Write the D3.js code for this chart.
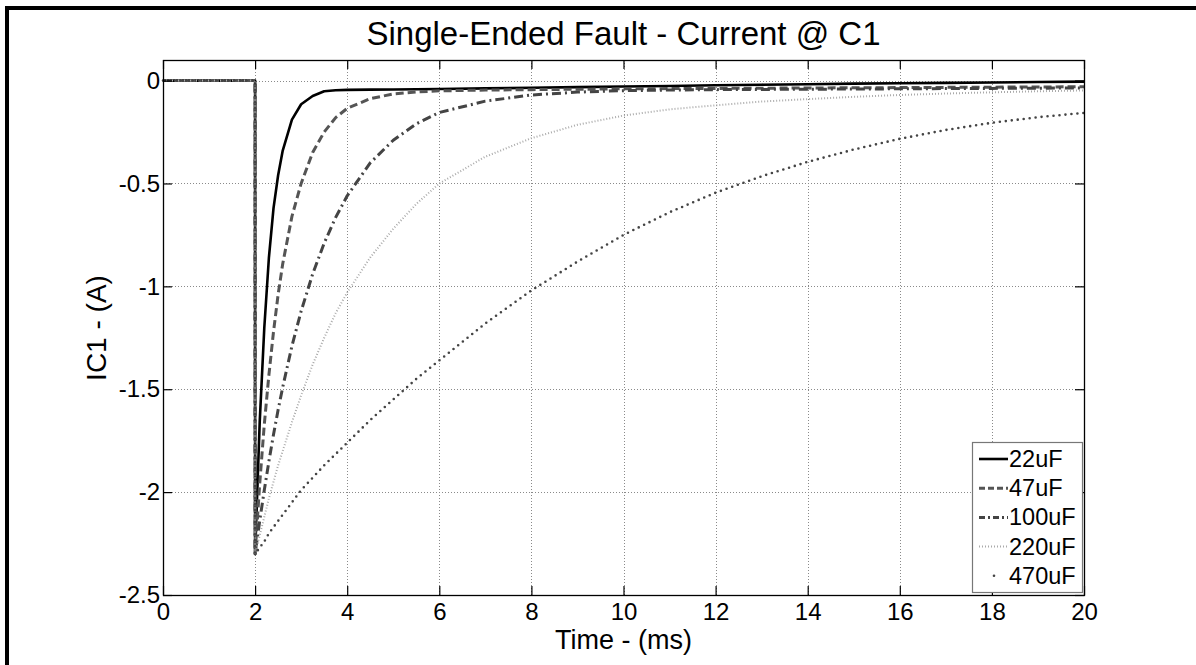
<!DOCTYPE html>
<html>
<head>
<meta charset="utf-8">
<script src="https://cdn.jsdelivr.net/npm/d3@7"></script>
<style>
  html, body { margin: 0; padding: 0; background: #fff; }
  svg { display: block; font-family: "Liberation Sans", Arial, sans-serif; }
</style>
</head>
<body>
<svg id="chart" width="1196" height="665"></svg>
<script>
// --- datos ---
const titleText = "Single-Ended Fault - Current @ C1";
const xLabel = "Time - (ms)";
const yLabel = "IC1 - (A)";

const xTicks = [0, 2, 4, 6, 8, 10, 12, 14, 16, 18, 20];
const yTicks = [0, -0.5, -1, -1.5, -2, -2.5];
const yTickLabels = ["0", "-0.5", "-1", "-1.5", "-2", "-2.5"];

const seriesNames = ["22uF", "47uF", "100uF", "220uF", "470uF"];

// tiempo (ms)
const time = [0, 2, 2, 2.1, 2.2, 2.3, 2.4, 2.5, 2.6, 2.8, 3, 3.25, 3.5, 3.75, 4, 4.5, 5, 5.5, 6,
  7, 8, 9, 10, 11, 12, 13, 14, 15, 16, 17, 18, 19, 20];

// corriente IC1 (A)
const i22 = [0, 0, -2.3, -1.66, -1.2, -0.86, -0.62, -0.46, -0.34, -0.19, -0.115, -0.075, -0.052, -0.047, -0.045,
  -0.044, -0.043, -0.042, -0.041, -0.038, -0.035, -0.032, -0.029, -0.026, -0.023, -0.02, -0.018, -0.015,
  -0.013, -0.011, -0.009, -0.007, -0.005];
const i47 = [0, 0, -2.3, -1.96, -1.67, -1.43, -1.22, -1.04, -0.89, -0.66, -0.5, -0.35, -0.25, -0.18, -0.135,
  -0.088, -0.065, -0.055, -0.05, -0.046, -0.044, -0.042, -0.04, -0.039, -0.038, -0.037, -0.036, -0.035,
  -0.034, -0.033, -0.032, -0.031, -0.03];
const i100 = [0, 0, -2.3, -2.14, -1.99, -1.85, -1.72, -1.6, -1.49, -1.29, -1.12, -0.94, -0.79, -0.665, -0.56,
  -0.4, -0.29, -0.21, -0.155, -0.1, -0.07, -0.056, -0.049, -0.046, -0.044, -0.043, -0.042, -0.041,
  -0.04, -0.039, -0.038, -0.037, -0.036];
const i220 = [0, 0, -2.3, -2.21, -2.12, -2.03, -1.95, -1.87, -1.8, -1.66, -1.53, -1.38, -1.25, -1.13, -1.03,
  -0.86, -0.72, -0.6, -0.5, -0.37, -0.28, -0.215, -0.17, -0.14, -0.12, -0.102, -0.09, -0.079,
  -0.07, -0.063, -0.057, -0.052, -0.048];
const i470 = [0, 0, -2.3, -2.27, -2.24, -2.2, -2.17, -2.14, -2.11, -2.05, -1.99, -1.93, -1.87, -1.815, -1.76,
  -1.65, -1.55, -1.45, -1.36, -1.18, -1.02, -0.88, -0.75, -0.64, -0.545, -0.465, -0.395, -0.335,
  -0.283, -0.24, -0.205, -0.178, -0.157];

const seriesValues = [i22, i47, i100, i220, i470];

// --- estilos (estilo MATLAB en escala de grises) ---
const styles = [
  { color: "#000", width: 2.6, dash: null, cap: "butt" },
  { color: "#555", width: 3, dash: "8,4", cap: "butt" },
  { color: "#444", width: 3, dash: "9,4,2,4", cap: "butt" },
  { color: "#aaa", width: 2, dash: "1,2", cap: "butt" },
  { color: "#444", width: 2.6, dash: "0,6", cap: "round" }
];

const svg = d3.select("#chart");
const W = 1196, H = 665;
const plot = { left: 163, right: 1084, top: 60, bottom: 595 };

// marco negro (arriba e izquierda)
svg.append("rect").attr("x", 5).attr("y", 6).attr("width", W - 5).attr("height", 4).attr("fill", "#000");
svg.append("rect").attr("x", 5).attr("y", 6).attr("width", 4).attr("height", H - 6).attr("fill", "#000");

const x = d3.scaleLinear().domain([0, 20]).range([plot.left, plot.right]);
const y = d3.scaleLinear().domain([-2.5, 0.1]).range([plot.bottom, plot.top]);

// --- grilla ---
const grid = svg.append("g").attr("class", "grid")
  .attr("stroke", "#8a8a8a").attr("stroke-width", 1).attr("stroke-dasharray", "1,2");
grid.selectAll("line.vx").data(xTicks.slice(1, -1)).join("line")
  .attr("x1", d => Math.round(x(d)) + 0.5).attr("x2", d => Math.round(x(d)) + 0.5)
  .attr("y1", plot.top).attr("y2", plot.bottom);
grid.selectAll("line.hy").data(yTicks.slice(0, -1)).join("line")
  .attr("y1", d => Math.round(y(d)) + 0.5).attr("y2", d => Math.round(y(d)) + 0.5)
  .attr("x1", plot.left).attr("x2", plot.right);

// --- curvas ---
const line = d3.line()
  .x(d => x(d[0]))
  .y(d => y(d[1]));

const curves = svg.append("g").attr("class", "curves");
// mismo orden que MATLAB: la última serie queda encima
seriesValues.forEach((vals, k) => {
  const pts = time.map((t, i) => [t, vals[i]]);
  const st = styles[k];
  curves.append("path")
    .datum(pts)
    .attr("d", line)
    .attr("fill", "none")
    .attr("stroke", st.color)
    .attr("stroke-width", st.width)
    .attr("stroke-linecap", st.cap)
    .attr("stroke-linejoin", "round")
    .attr("stroke-dasharray", st.dash);
});

// --- ejes (caja con ticks hacia adentro) ---
const tickLen = 9;
const axX = d3.axisBottom(x).tickValues(xTicks).tickSizeInner(-tickLen).tickSizeOuter(0).tickPadding(8);
const axXTop = d3.axisTop(x).tickValues(xTicks).tickSizeInner(-tickLen).tickSizeOuter(0).tickFormat("");
const axY = d3.axisLeft(y).tickValues(yTicks).tickSizeInner(-tickLen).tickSizeOuter(0).tickPadding(3)
  .tickFormat((d, i) => yTickLabels[i]);
const axYRight = d3.axisRight(y).tickValues(yTicks).tickSizeInner(-tickLen).tickSizeOuter(0).tickFormat("");

function styleAxis(g) {
  g.select(".domain").remove();
  g.selectAll(".tick line").attr("stroke", "#000").attr("stroke-width", 1.2);
  g.selectAll(".tick text").attr("fill", "#000").style("font-size", "24px");
}

svg.append("g").attr("transform", `translate(0,${plot.bottom})`).call(axX).call(styleAxis);
svg.append("g").attr("transform", `translate(0,${plot.top})`).call(axXTop).call(styleAxis);
svg.append("g").attr("transform", `translate(${plot.left},0)`).call(axY).call(styleAxis);
svg.append("g").attr("transform", `translate(${plot.right},0)`).call(axYRight).call(styleAxis);

svg.append("rect")
  .attr("x", plot.left + 0.5).attr("y", plot.top + 0.5)
  .attr("width", plot.right - plot.left).attr("height", plot.bottom - plot.top)
  .attr("fill", "none").attr("stroke", "#000").attr("stroke-width", 1.3);

// --- textos ---
svg.append("text")
  .attr("x", (plot.left + plot.right) / 2).attr("y", 45)
  .attr("text-anchor", "middle").style("font-size", "33px")
  .text(titleText);

svg.append("text")
  .attr("x", (plot.left + plot.right) / 2).attr("y", 649)
  .attr("text-anchor", "middle").style("font-size", "27px")
  .text(xLabel);

svg.append("text")
  .attr("transform", `translate(106,328) rotate(-90)`)
  .attr("text-anchor", "middle").style("font-size", "28px")
  .text(yLabel);

// --- leyenda ---
const lg = { x: 972, y: 442, w: 110, h: 150, row: 29.2 };
const legend = svg.append("g").attr("class", "legend");
legend.append("rect")
  .attr("x", lg.x + 0.5).attr("y", lg.y + 0.5).attr("width", lg.w).attr("height", lg.h)
  .attr("fill", "#fff").attr("stroke", "#777").attr("stroke-width", 1.2);

seriesNames.forEach((name, k) => {
  const cy = lg.y + 17 + k * lg.row;
  const st = styles[k];
  if (k === 4) {
    legend.append("circle").attr("cx", 994).attr("cy", cy).attr("r", 1.3).attr("fill", st.color);
  } else {
    legend.append("line")
      .attr("x1", 979).attr("x2", 1008).attr("y1", cy).attr("y2", cy)
      .attr("stroke", st.color).attr("stroke-width", st.width)
      .attr("stroke-dasharray", k === 1 ? "6,3" : k === 2 ? "6,3,2,3" : st.dash);
  }
  legend.append("text")
    .attr("x", 1009).attr("y", cy + 8)
    .style("font-size", "23.5px")
    .text(name);
});
</script>
</body>
</html>
